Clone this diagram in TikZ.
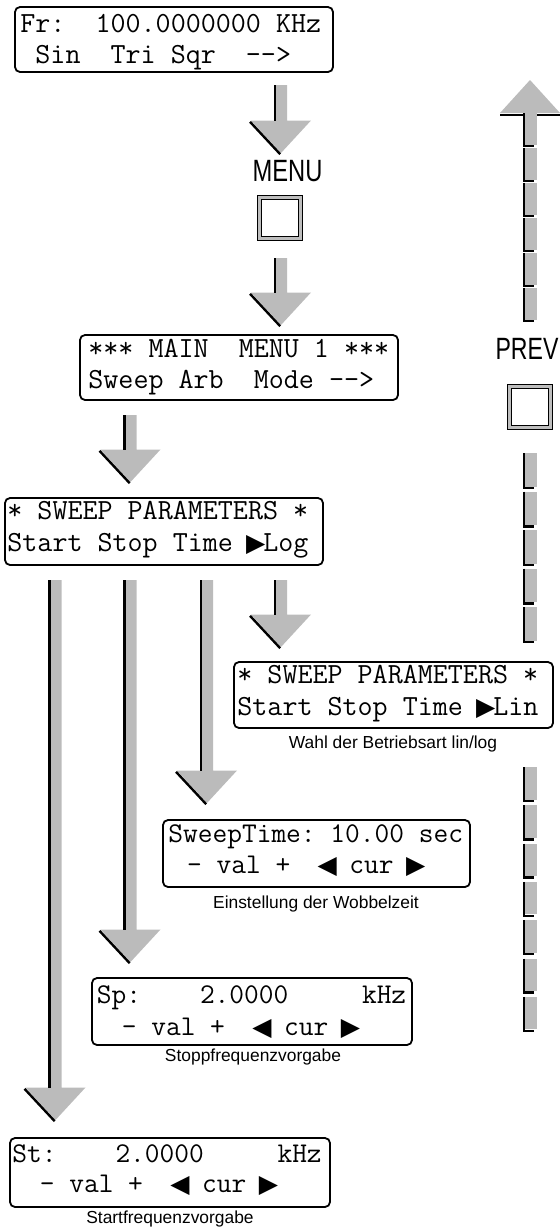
\documentclass[tikz,border=0pt]{standalone}
\usepackage{fontspec}
\usepackage{graphicx}
\usetikzlibrary{calc,fit}
\newfontfamily\capfont{Liberation Sans}
\newfontfamily\symfont{DejaVu Sans}
\definecolor{arrowgray}{RGB}{187,187,187}
\definecolor{btngray}{RGB}{190,190,190}
% cursor triangles, one character cell wide
\newcommand\rtri{\makebox[0.525em][c]{\symfont\fontsize{12.5}{12.5}\selectfont ▶}}
\newcommand\ltri{\makebox[0.525em][c]{\symfont\fontsize{12.5}{12.5}\selectfont ◀}}
% grey block arrow pointing down, from shaft top #1 to tip #2
\newcommand\DownBlock[2]{%
  \fill[arrowgray] let \p1=(#1), \p2=(#2) in
    (\x2-3pt,\y1) -- (\x2+3pt,\y1) -- (\x2+3pt,\y2+16.25pt) -- (\x2+15pt,\y2+16.25pt)
    -- (\x2,\y2) -- (\x2-15pt,\y2+16.25pt) -- (\x2-3pt,\y2+16.25pt) -- cycle;
  \draw[shadeline] let \p1=(#1), \p2=(#2) in (\x2-3pt,\y1) -- (\x2-3pt,\y2+16.25pt);
  \draw[shadeline] let \p2=(#2) in (\x2-15.5pt,\y2+15.6pt) -- (\x2-0.4pt,\y2-0.6pt);
}
\tikzset{
  display/.style={draw, line width=0.9pt, rounded corners=2.5pt, inner sep=0pt},
  lcd/.style={anchor=base west, inner sep=0pt,
    font=\ttfamily\fontsize{14.6}{16}\selectfont\frenchspacing},
  lcdnarrow/.style={lcd, font=\ttfamily\fontsize{14.3}{16}\selectfont\frenchspacing},
  caption/.style={inner sep=0pt, font=\capfont\fontsize{8.7}{10}\selectfont},
  keylabel/.style={inner sep=0pt, font=\capfont\fontsize{15.4}{16}\selectfont},
  keybox/.style={draw, line width=0.5pt, double=btngray, double distance=1.5pt,
    fill=white, minimum size=20.5pt, inner sep=0pt},
  shadeline/.style={line width=1.2pt},
  tick/.style={line width=1.2pt, line join=miter},
}
\begin{document}
\begin{tikzpicture}[x=0.5pt,y=-0.5pt]
\useasboundingbox (0,0) rectangle (560,1227);

% ---- displays ----
\node[display, fit={(15,7) (333,72)}] (d0) {};
\node[lcd] (d0l1) at (20,32) {Fr:~~100.0000000~KHz};
\node[lcd] (d0l2) at (20,63) {~Sin~~Tri~Sqr~~-{}-{}>};

\node[display, fit={(80,335) (398,400)}] (d1) {};
\node[lcd] (d1l1) at (88,357) {***~MAIN~~MENU~1~***};
\node[lcd] (d1l2) at (88,388) {Sweep~Arb~~Mode~-{}-{}>};

\node[display, fit={(5,498) (323,565)}] (d2) {};
\node[lcd] (d2l1) at (7,519) {*~SWEEP~PARAMETERS~*};
\node[lcd] (d2l2) at (7,551) {Start~Stop~Time~\rtri Log};

\node[display, fit={(234,662) (553,728)}] (d3) {};
\node[lcd] (d3l1) at (237,683) {*~SWEEP~PARAMETERS~*};
\node[lcd] (d3l2) at (237,715) {Start~Stop~Time~\rtri Lin};
\node[caption] (c3) at (393,744) {Wahl der Betriebsart lin/log};

\node[display, fit={(163,820) (470,887)}] (d4) {};
\node[lcdnarrow] (d4l1) at (168,842) {SweepTime:~10.00~sec};
\node[lcdnarrow] (d4l2) at (172,873) {~-~val~+~~\ltri~cur~\rtri};
\node[caption] (c4) at (316,904) {Einstellung der Wobbelzeit};

\node[display, fit={(92,978) (412,1045)}] (d5) {};
\node[lcdnarrow] (d5l1) at (96.5,1003) {Sp:~~~~2.0000~~~~~kHz};
\node[lcdnarrow] (d5l2) at (92,1035) {~~-~val~+~~\ltri~cur~\rtri};
\node[caption] (c5) at (253,1057) {Stoppfrequenzvorgabe};

\node[display, fit={(10,1138) (330,1207)}] (d6) {};
\node[lcdnarrow] (d6l1) at (12,1162) {St:~~~~2.0000~~~~~kHz};
\node[lcdnarrow] (d6l2) at (10,1192) {~~-~val~+~~\ltri~cur~\rtri};
\node[caption] (c6) at (170,1219) {Startfrequenzvorgabe};

% ---- keys ----
\node[keylabel] (menulbl) at (287.5,171) {\scalebox{0.77}[1]{MENU}};
\node[keybox] (menukey) at (280,217.5) {};
\node[keylabel] (prevlbl) at (527,349) {\scalebox{0.75}[1]{PREV}};
\node[keybox] (prevkey) at (529.5,407) {};

% ---- downward block arrows ----
\coordinate (a1s) at (281,85);    \coordinate (a1e) at (281,153);
\coordinate (a2s) at (281,258);   \coordinate (a2e) at (281,325);
\coordinate (a3s) at (130.5,415); \coordinate (a3e) at (130.5,482);
\coordinate (a4s) at (281,580);   \coordinate (a4e) at (281,647);
\coordinate (a5s) at (207,580);   \coordinate (a5e) at (207,803);
\coordinate (a6s) at (130.5,580); \coordinate (a6e) at (130.5,962);
\coordinate (a7s) at (55.5,580);  \coordinate (a7e) at (55.5,1120);
\DownBlock{a1s}{a1e}
\DownBlock{a2s}{a2e}
\DownBlock{a3s}{a3e}
\DownBlock{a4s}{a4e}
\DownBlock{a5s}{a5e}
\DownBlock{a6s}{a6e}
\DownBlock{a7s}{a7e}

% ---- broken return arrow (PREV) ----
\coordinate (utip) at (530,80);
\fill[arrowgray] (utip) -- (560,113) -- (500,113) -- cycle;
\draw[line width=1pt] (500,114.5) -- (524,114.5);
\draw[line width=1pt] (536,114.5) -- (560,114.5);
\foreach \k in {0,...,5} {
  \pgfmathsetmacro\yt{113+35*\k}
  \fill[arrowgray] (525,\yt) rectangle (537,\yt+31.5);
  \draw[tick] (524,\yt) -- (524,\yt+33) -- (534,\yt+33);
}
\foreach \k in {0,...,4} {
  \pgfmathsetmacro\yt{453+38.5*\k}
  \fill[arrowgray] (525,\yt) rectangle (537,\yt+33.5);
  \draw[tick] (524,\yt) -- (524,\yt+35) -- (534,\yt+35);
}
\foreach \k in {0,...,6} {
  \pgfmathsetmacro\yt{767+38.3*\k}
  \fill[arrowgray] (525,\yt) rectangle (537,\yt+32.5);
  \draw[tick] (524,\yt) -- (524,\yt+34) -- (534,\yt+34);
}
\end{tikzpicture}
\end{document}
